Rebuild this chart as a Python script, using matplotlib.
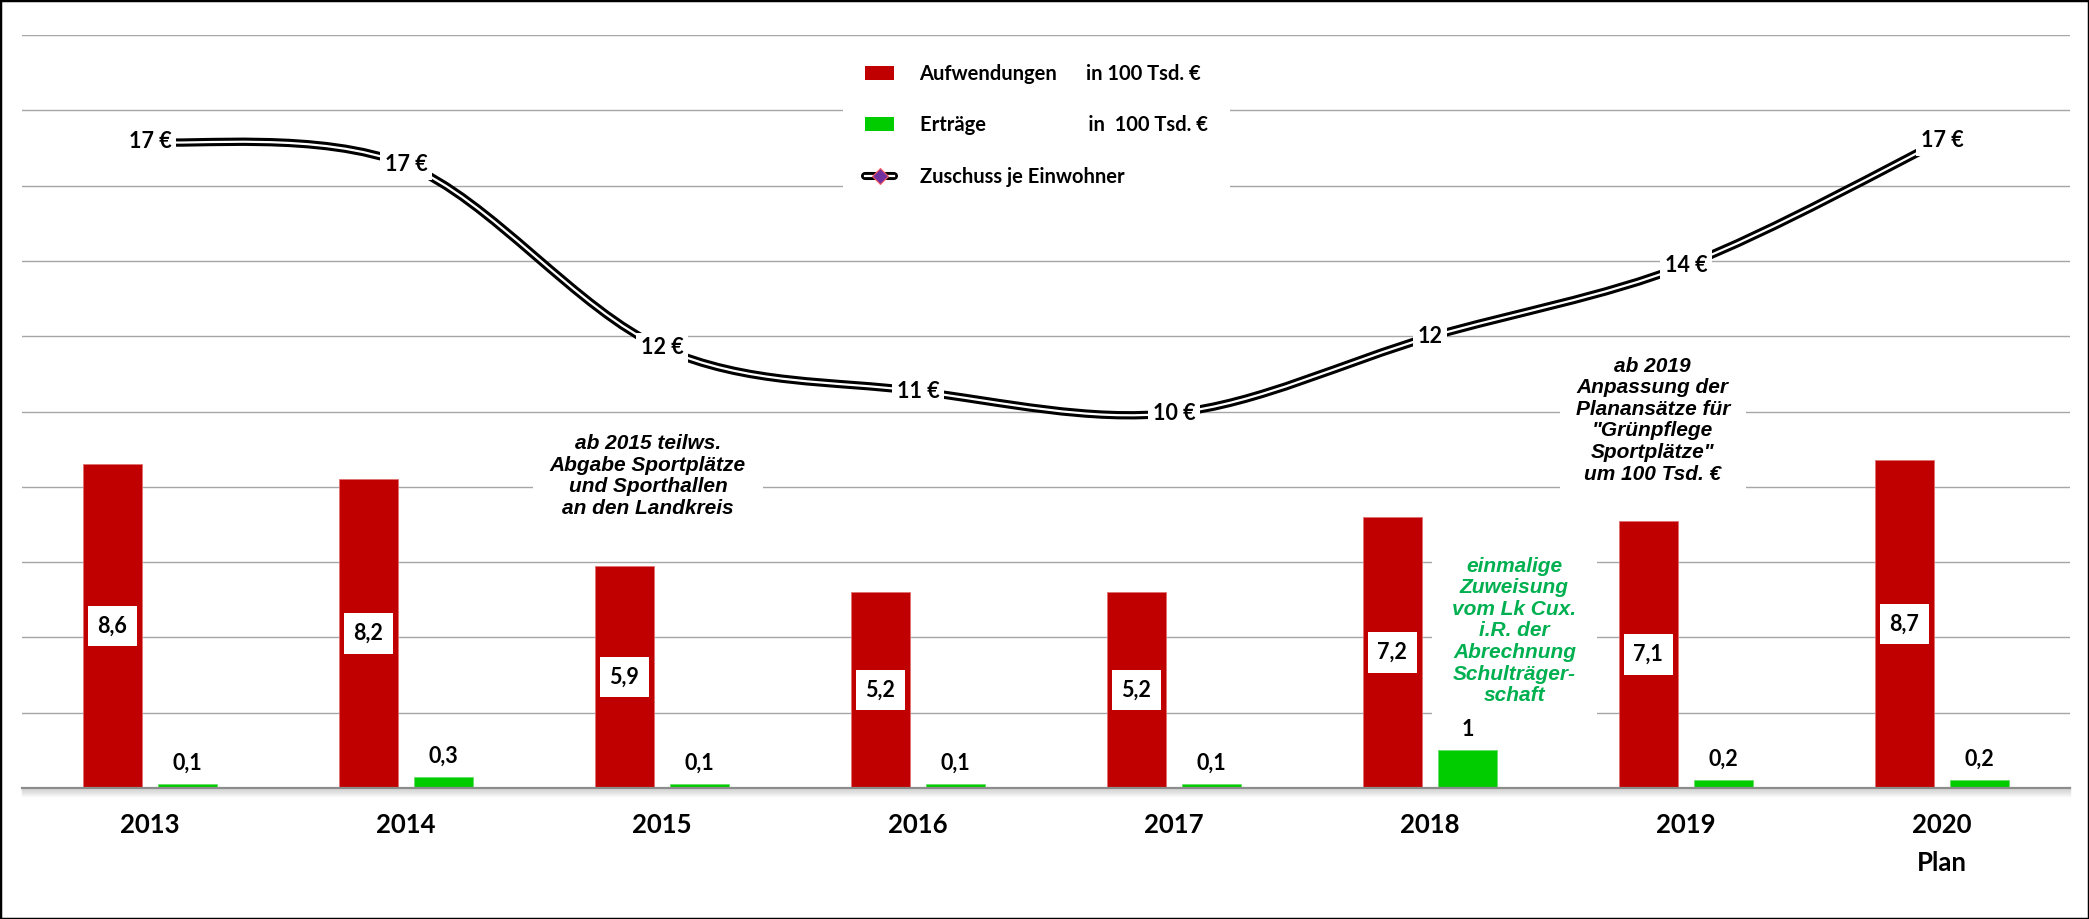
import numpy as np
import matplotlib
matplotlib.use("Agg")
import matplotlib.pyplot as plt
from matplotlib.path import Path
from matplotlib.patches import PathPatch, Patch, Rectangle
from matplotlib.lines import Line2D
import matplotlib.transforms as mtransforms

# ---------------- data ----------------
years = ["2013", "2014", "2015", "2016", "2017", "2018", "2019", "2020\nPlan"]
aufwendungen = [8.6, 8.2, 5.9, 5.2, 5.2, 7.2, 7.1, 8.7]      # in 100 Tsd. €
ertraege = [0.1, 0.3, 0.1, 0.1, 0.1, 1.0, 0.2, 0.2]          # in 100 Tsd. €
zuschuss = [17.16, 16.55, 11.69, 10.54, 9.96, 11.98, 13.89, 17.2]  # € je Einwohner
zuschuss_labels = ["17 €", "17 €", "12 €", "11 €", "10 €", "12", "14 €", "17 €"]

legend_labels = ["Aufwendungen      in 100 Tsd. €",
                 "Erträge                     in  100 Tsd. €",
                 "Zuschuss je Einwohner"]
note_2015 = "ab 2015 teilws.\nAbgabe Sportplätze\nund Sporthallen\nan den Landkreis"
note_2019 = "ab 2019\nAnpassung der\nPlanansätze für\n\"Grünpflege\nSportplätze\"\num 100 Tsd. €"
note_2018 = "einmalige\nZuweisung\nvom Lk Cux.\ni.R. der\nAbrechnung\nSchulträger-\nschaft"

RED = "#c00000"
GREEN = "#00cc00"
NOTE_GREEN = "#00b050"
CAL = ["Lato", "DejaVu Sans"]
ARIAL = ["Liberation Sans", "DejaVu Sans"]

def fmt(v):
    return f"{v:g}".replace(".", ",")

W, H = 2089, 919
fig = plt.figure(figsize=(W / 100, H / 100), dpi=100)
ax = fig.add_axes([22 / W, 131 / H, 2048 / W, 753 / H])
ax.set_xlim(-0.5, len(years) - 0.5)
ax.set_ylim(0, 20)

# grid
ax.set_yticks(np.arange(2, 21, 2))
ax.yaxis.grid(True, color="#a6a6a6", linewidth=1.0, zorder=0)
ax.set_axisbelow(True)
ax.tick_params(axis="y", left=False, labelleft=False)
for s in ["top", "right", "left"]:
    ax.spines[s].set_visible(False)
ax.spines["bottom"].set_color("#8c8c8c")
ax.spines["bottom"].set_linewidth(1.6)
ax.spines["bottom"].set_zorder(3)

# baseline shadow
for k in range(1, 9):
    tr = mtransforms.offset_copy(ax.get_xaxis_transform(), fig=fig, x=0, y=-k, units="dots")
    ax.plot([0, 1], [0, 0], transform=mtransforms.blended_transform_factory(ax.transAxes, tr),
            color="#b0b0b0", alpha=0.5 * (1 - k / 9), lw=1.0, clip_on=False, zorder=1)

x = np.arange(len(years))
bw = 0.228
off = 0.147
ax.bar(x - off, aufwendungen, bw, color=RED, edgecolor="#e07070", linewidth=0.6, zorder=2)
ax.bar(x + off, ertraege, bw, color=GREEN, edgecolor="#66e066", linewidth=0.6, zorder=2)

ax.set_xticks(x)
ax.set_xticklabels(years, fontfamily=CAL, fontweight="bold", fontsize=18.5, linespacing=1.7)
ax.tick_params(axis="x", length=0, pad=18)

# bar labels
for xi, v in zip(x, aufwendungen):
    ax.text(xi - off, v / 2, fmt(v), ha="center", va="center", fontfamily=CAL,
            fontweight="bold", fontsize=15.5, zorder=4,
            bbox=dict(boxstyle="square,pad=0.45", fc="white", ec="none"))
for xi, v in zip(x, ertraege):
    ax.annotate(fmt(v), (xi + off, v), xytext=(0, 15), textcoords="offset points",
                ha="center", va="center", fontfamily=CAL, fontweight="bold",
                fontsize=15.5, zorder=4)

# smoothed line (Catmull-Rom -> cubic Bezier through the data points)
pts = np.column_stack([x, zuschuss]).astype(float)
n = len(pts)
verts = [pts[0]]
codes = [Path.MOVETO]
for i in range(n - 1):
    p0 = pts[max(i - 1, 0)]
    p1 = pts[i]
    p2 = pts[i + 1]
    p3 = pts[min(i + 2, n - 1)]
    verts += [p1 + (p2 - p0) / 6, p2 - (p3 - p1) / 6, p2]
    codes += [Path.CURVE4] * 3
path = Path(verts, codes)
ax.add_patch(PathPatch(path, fill=False, edgecolor="black", lw=6.0, zorder=5, capstyle="butt"))
ax.add_patch(PathPatch(path, fill=False, edgecolor="white", lw=1.6, zorder=5.1, capstyle="butt"))

for xi, v, lab in zip(x, zuschuss, zuschuss_labels):
    ax.text(xi, v, lab, ha="center", va="center", fontfamily=CAL, fontweight="bold",
            fontsize=15.5, zorder=6,
            bbox=dict(boxstyle="square,pad=0.22", fc="white", ec="none"))

# notes
note_kw = dict(ha="center", va="center", fontfamily=ARIAL, fontweight="bold",
               fontstyle="italic", fontsize=15, linespacing=1.17, zorder=1.5)
ax.text(1.945, 8.29, note_2015, **note_kw,
        bbox=dict(boxstyle="square,pad=0.8", fc="white", ec="none"))
ax.text(5.87, 9.77, note_2019, **note_kw,
        bbox=dict(boxstyle="square,pad=0.75", fc="white", ec="none"))
ax.text(5.33, 4.17, note_2018, color=NOTE_GREEN, **note_kw,
        bbox=dict(boxstyle="square,pad=1.0", fc="white", ec="none"))

# legend
h_red = Patch(facecolor=RED, edgecolor="none")
h_green = Patch(facecolor=GREEN, edgecolor="none")
h_line = (Line2D([], [], color="black", lw=5.8, solid_capstyle="round"),
          Line2D([], [], color="white", lw=1.6),
          Line2D([], [], color="none", marker="D", markersize=8,
                 markerfacecolor="#7030a0", markeredgecolor="#ff6060", markeredgewidth=0.8))
leg = fig.legend([h_red, h_green, h_line], legend_labels,
                 loc="upper left", bbox_to_anchor=(843 / W, 1 - 42 / H),
                 frameon=True, fancybox=False, framealpha=1, facecolor="white",
                 edgecolor="none", borderpad=1.1, borderaxespad=0,
                 handlelength=1.45, handleheight=0.7, handletextpad=1.25, labelspacing=1.55,
                 prop=dict(family=CAL, weight="bold", size=14.5))
leg.set_zorder(7)

# outer border
fig.patches.append(Rectangle((0, 0), 1, 1, transform=fig.transFigure, fill=False,
                             edgecolor="black", lw=2.5, zorder=10))

fig.savefig("out.png", dpi=100)
